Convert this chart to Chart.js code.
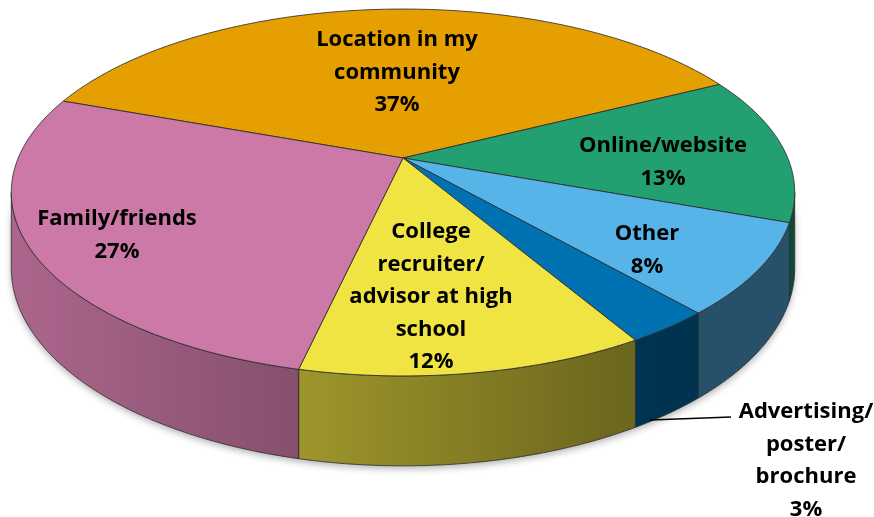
<!DOCTYPE html>
<html lang="en">
<head>
    <meta charset="UTF-8">
    <title>How did you hear about us</title>
    <script src="https://cdn.jsdelivr.net/npm/chart.js"></script>
    <style>
        html, body { margin: 0; padding: 0; background: #fff; }
    </style>
</head>
<body>
    <canvas id="pie" width="874" height="517"></canvas>

    <script>
        // Chart data
        const categories = ['Location in my community', 'Online/website', 'Other',
            'Advertising/poster/brochure', 'College recruiter/advisor at high school', 'Family/friends'];
        const percents = [37, 13, 8, 3, 12, 27];
        // how each category name is broken into lines on the chart
        const nameLines = [
            ['Location in my', 'community'],
            ['Online/website'],
            ['Other'],
            ['Advertising/', 'poster/', 'brochure'],
            ['College', 'recruiter/', 'advisor at high', 'school'],
            ['Family/friends']
        ];
        const sliceColors = ['#E69F00', '#22A072', '#56B4E9', '#0072B2', '#F0E442', '#CC79A7'];

        // 3D view: scales are relative to the pie radius Chart.js computes
        const VIEW = { sx: 2.435, sy: 1.12, persp: 0.188, depth: 0.462 };
        // label centers (first line) and line height
        const LABEL_POS = [[397, 40], [663, 146], [647, 234], [806, 412], [431, 232], [117, 219]];
        const LINE_H = 32.5;
        const LEADER = [[650, 420], [731, 417]];
        const EDGE = 'rgba(45,45,45,0.85)';

        function project(cx, cy, r, theta, z) {
            const X = Math.cos(theta), Y = Math.sin(theta);
            const w = 1 - VIEW.persp * Y;
            return [cx + r * VIEW.sx * X / w, cy + (r * VIEW.sy * Y + r * VIEW.depth * z) / w];
        }

        function shade(hex, f) {
            const n = parseInt(hex.slice(1), 16);
            const c = [(n >> 16) & 255, (n >> 8) & 255, n & 255].map(v => Math.round(v * f));
            return `rgb(${c[0]},${c[1]},${c[2]})`;
        }

        // lighting on the side wall: lighter on the left
        const wallLight = x => x < 620 ? 0.85 - 0.4 * x / 620 : 0.45;

        function wallPath(ctx, cx, cy, r, a, b) {
            const n = Math.max(2, Math.ceil((b - a) / 0.01));
            ctx.beginPath();
            for (let k = 0; k <= n; k++) {
                const p = project(cx, cy, r, a + (b - a) * k / n, 0);
                k === 0 ? ctx.moveTo(p[0], p[1]) : ctx.lineTo(p[0], p[1]);
            }
            for (let k = n; k >= 0; k--) {
                const p = project(cx, cy, r, a + (b - a) * k / n, 1);
                ctx.lineTo(p[0], p[1]);
            }
            ctx.closePath();
        }

        const pie3d = {
            id: 'pie3d',
            beforeDatasetsDraw(chart) {
                const ctx = chart.ctx;
                const arcs = chart.getDatasetMeta(0).data;
                const colors = chart.data.datasets[0].backgroundColor;
                const { x: cx, y: cy, outerRadius: r } = arcs[0];
                const v0 = Math.asin(VIEW.persp), v1 = Math.PI - v0;

                ctx.save();
                ctx.lineJoin = 'round';

                // soft shadow under the pie
                ctx.save();
                wallPath(ctx, cx, cy, r, v0, v1);
                ctx.fillStyle = '#fff';
                ctx.shadowColor = 'rgba(0,0,0,0.3)';
                ctx.shadowBlur = 7;
                ctx.shadowOffsetY = 3;
                ctx.fill();
                ctx.restore();

                // side walls (front half only)
                arcs.forEach((arc, i) => {
                    for (let t = -1; t <= 2; t++) {
                        const a = Math.max(arc.startAngle, v0 + 2 * Math.PI * t);
                        const b = Math.min(arc.endAngle, v1 + 2 * Math.PI * t);
                        if (b <= a) continue;
                        const g = ctx.createLinearGradient(0, 0, chart.width, 0);
                        for (let s = 0; s <= 20; s++) {
                            g.addColorStop(s / 20, shade(colors[i], wallLight(chart.width * s / 20)));
                        }
                        wallPath(ctx, cx, cy, r, a, b);
                        ctx.fillStyle = g;
                        ctx.fill();
                        ctx.strokeStyle = EDGE;
                        ctx.lineWidth = 1;
                        ctx.stroke();
                    }
                });

                // top faces
                arcs.forEach((arc, i) => {
                    const a = arc.startAngle, b = arc.endAngle;
                    const n = Math.max(2, Math.ceil((b - a) / 0.01));
                    ctx.beginPath();
                    ctx.moveTo(cx, cy);
                    for (let k = 0; k <= n; k++) {
                        const p = project(cx, cy, r, a + (b - a) * k / n, 0);
                        ctx.lineTo(p[0], p[1]);
                    }
                    ctx.closePath();
                    ctx.fillStyle = colors[i];
                    ctx.fill();
                    ctx.strokeStyle = EDGE;
                    ctx.lineWidth = 1;
                    ctx.stroke();
                });
                ctx.restore();
                return false;
            },
            afterDraw(chart) {
                const ctx = chart.ctx;
                ctx.save();
                // leader line for the small slice
                ctx.beginPath();
                ctx.moveTo(LEADER[0][0], LEADER[0][1]);
                ctx.lineTo(LEADER[1][0], LEADER[1][1]);
                ctx.strokeStyle = '#000';
                ctx.lineWidth = 1.5;
                ctx.stroke();

                ctx.fillStyle = '#000';
                ctx.font = 'bold 22px "Open Sans"';
                ctx.textAlign = 'center';
                ctx.textBaseline = 'middle';
                chart.data.labels.forEach((lbl, i) => {
                    const lines = nameLines[i].concat([percents[i] + '%']);
                    lines.forEach((txt, j) => {
                        ctx.fillText(txt, LABEL_POS[i][0], LABEL_POS[i][1] + j * LINE_H);
                    });
                });
                ctx.restore();
            }
        };

        new Chart(document.getElementById('pie'), {
            type: 'pie',
            data: {
                labels: categories,
                datasets: [{
                    data: percents,
                    backgroundColor: sliceColors,
                    borderWidth: 0
                }]
            },
            options: {
                responsive: false,
                animation: false,
                rotation: 290,
                // puts the pie center at (403, 158) with a radius of 158
                layout: { padding: { left: 0, right: 68, top: 0, bottom: 201 } },
                events: [],
                plugins: {
                    legend: { display: false },
                    tooltip: { enabled: false }
                }
            },
            plugins: [pie3d]
        });
    </script>
</body>
</html>
